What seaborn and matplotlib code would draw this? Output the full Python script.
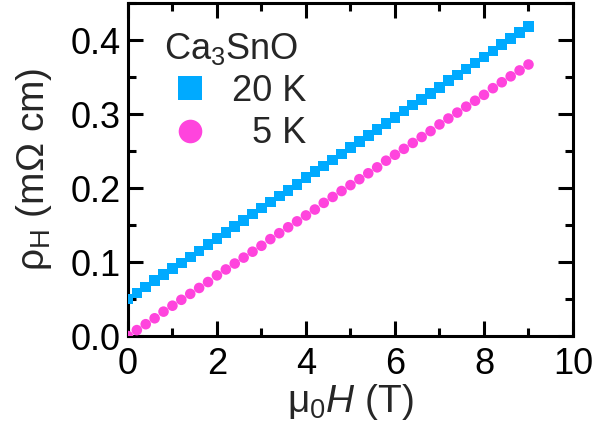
import matplotlib
matplotlib.use("Agg")
import matplotlib.pyplot as plt
import seaborn as sns
import pandas as pd
from matplotlib.ticker import MultipleLocator
from matplotlib.lines import Line2D

# Hall resistivity of Ca3SnO versus magnetic field
field_T = [0.0, 0.2, 0.4, 0.6, 0.8, 1.0, 1.2, 1.4, 1.6, 1.8,
           2.0, 2.2, 2.4, 2.6, 2.8, 3.0, 3.2, 3.4, 3.6, 3.8,
           4.0, 4.2, 4.4, 4.6, 4.8, 5.0, 5.2, 5.4, 5.6, 5.8,
           6.0, 6.2, 6.4, 6.6, 6.8, 7.0, 7.2, 7.4, 7.6, 7.8,
           8.0, 8.2, 8.4, 8.6, 8.8, 9.0]

rho_20K = [0.050, 0.058, 0.066, 0.075, 0.083, 0.091, 0.099, 0.107, 0.115, 0.124,
           0.132, 0.140, 0.148, 0.156, 0.165, 0.173, 0.181, 0.189, 0.197, 0.205,
           0.214, 0.222, 0.230, 0.238, 0.246, 0.255, 0.263, 0.271, 0.279, 0.287,
           0.295, 0.304, 0.312, 0.320, 0.328, 0.336, 0.345, 0.353, 0.361, 0.369,
           0.377, 0.385, 0.394, 0.402, 0.410, 0.418]

rho_5K = [0.000, 0.008, 0.016, 0.024, 0.033, 0.041, 0.049, 0.057, 0.065, 0.073,
          0.082, 0.090, 0.098, 0.106, 0.114, 0.122, 0.131, 0.139, 0.147, 0.155,
          0.163, 0.171, 0.180, 0.188, 0.196, 0.204, 0.212, 0.220, 0.228, 0.237,
          0.245, 0.253, 0.261, 0.269, 0.277, 0.286, 0.294, 0.302, 0.310, 0.318,
          0.326, 0.335, 0.343, 0.351, 0.359, 0.367]

temperatures = ["20 K", "5 K"]
legend_labels = ["20 K", "  5 K"]
colors = {"20 K": "#00AAFF", "5 K": "#FF44DD"}
markers = {"20 K": "s", "5 K": "o"}

df = pd.concat([
    pd.DataFrame({"H": field_T, "rho": rho_20K, "T": "20 K"}),
    pd.DataFrame({"H": field_T, "rho": rho_5K, "T": "5 K"}),
])

sns.set_style("ticks")
plt.rcParams["font.family"] = ["Liberation Sans", "DejaVu Sans"]
plt.rcParams["mathtext.fontset"] = "custom"
plt.rcParams["mathtext.rm"] = "Liberation Sans"
plt.rcParams["mathtext.it"] = "Liberation Sans:italic"

fig = plt.figure(figsize=(5.95, 4.41), dpi=100)
ax = fig.add_axes([0.215, 0.238, 0.748, 0.755])

sns.scatterplot(data=df, x="H", y="rho", hue="T", style="T",
                palette=colors, markers=markers, s=58, linewidth=0,
                ax=ax, legend=False, zorder=3)

ax.set_xlim(0, 10)
ax.set_ylim(0, 0.45)
ax.xaxis.set_minor_locator(MultipleLocator(1))
ax.yaxis.set_minor_locator(MultipleLocator(0.05))
ax.set_xticks([0, 2, 4, 6, 8, 10])
ax.set_yticks([0.0, 0.1, 0.2, 0.3, 0.4])
ax.set_yticklabels(["0.0", "0.1", "0.2", "0.3", "0.4"])

for s in ax.spines.values():
    s.set_linewidth(2.2)
    s.set_color("black")
ax.tick_params(which="both", direction="in", top=True, right=True,
               width=2.2, color="black", labelsize=26, labelcolor="black")
ax.tick_params(which="major", length=11)
ax.tick_params(which="minor", length=6)
ax.tick_params(axis="x", which="major", pad=8)
ax.tick_params(axis="y", which="major", pad=5)

ax.set_xlabel(r"$\mathrm{\mu_0}\mathit{H}$ (T)", fontsize=28, labelpad=0)
ax.set_ylabel(r"$\mathrm{\rho_H}$ (m$\Omega$ cm)", fontsize=28, labelpad=12)

handles = [Line2D([], [], linestyle="none", marker=markers[t],
                  markerfacecolor=colors[t], markeredgewidth=0,
                  markersize=17) for t in temperatures]
leg = ax.legend(handles, legend_labels, title=r"Ca$_3$SnO",
                loc="upper left", bbox_to_anchor=(0.048, 0.96),
                frameon=False, fontsize=26, title_fontsize=26,
                alignment="left", handletextpad=0.45, labelspacing=0.2,
                borderaxespad=0.0, handlelength=1.45)

fig.savefig("out.png", dpi=100)
